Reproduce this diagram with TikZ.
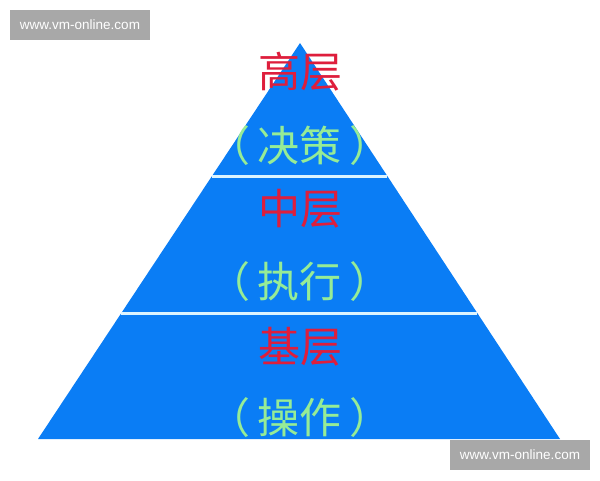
\documentclass[tikz,border=0pt]{standalone}
\usepackage{fontspec}
\setsansfont{Liberation Sans}
\newfontfamily\cjk{Noto Sans CJK SC}
\usetikzlibrary{calc, positioning}
\definecolor{pyrblue}{RGB}{10,125,245}
\definecolor{tierred}{RGB}{222,30,60}
\definecolor{rolegreen}{RGB}{150,236,150}
\definecolor{gapline}{RGB}{220,244,255}
\definecolor{wmgray}{RGB}{168,168,168}
\newcommand{\rolename}[1]{（\kern8pt #1\kern8pt ）}

\tikzset{
  tier/.style={text=tierred, font=\cjk\fontsize{42}{44}\selectfont, inner sep=0pt},
  role/.style={text=rolegreen, font=\cjk\fontsize{42}{44}\selectfont, inner sep=0pt},
  gap/.style={draw=gapline, line width=3pt},
  wmark/.style={fill=wmgray, text=white, font=\sffamily\fontsize{13.5}{15}\selectfont,
    minimum width=140pt, minimum height=30pt, inner sep=0pt},
}

\begin{document}
\begin{tikzpicture}[x=1pt, y=-1pt]
\useasboundingbox (0,0) rectangle (600,480);
%pyramid
\coordinate (apex) at (300,43);
\coordinate (bl) at (38,439);
\coordinate (br) at (560,439);
\fill[pyrblue] (apex) -- (br) -- (bl) -- cycle;
\coordinate (l1) at ($(apex)!0.336!(bl)$);
\coordinate (r1) at ($(apex)!0.336!(br)$);
\coordinate (l2) at ($(apex)!0.682!(bl)$);
\coordinate (r2) at ($(apex)!0.682!(br)$);
\draw[gap] (l1) -- (r1);
\draw[gap] (l2) -- (r2);
%labels
\node[tier] (top) at (300,72) {高层};
\node[role] (toprole) at (300,146) {\rolename{决策}};
\node[tier] (mid) at (300,209) {中层};
\node[role] (midrole) at (300,282) {\rolename{执行}};
\node[tier] (base) at (300,347) {基层};
\node[role] (baserole) at (300,418) {\rolename{操作}};
%watermarks
\node[wmark] (wm1) at (80,25) {www.vm-online.com};
\node[wmark] (wm2) at (520,455) {www.vm-online.com};
\end{tikzpicture}
\end{document}
